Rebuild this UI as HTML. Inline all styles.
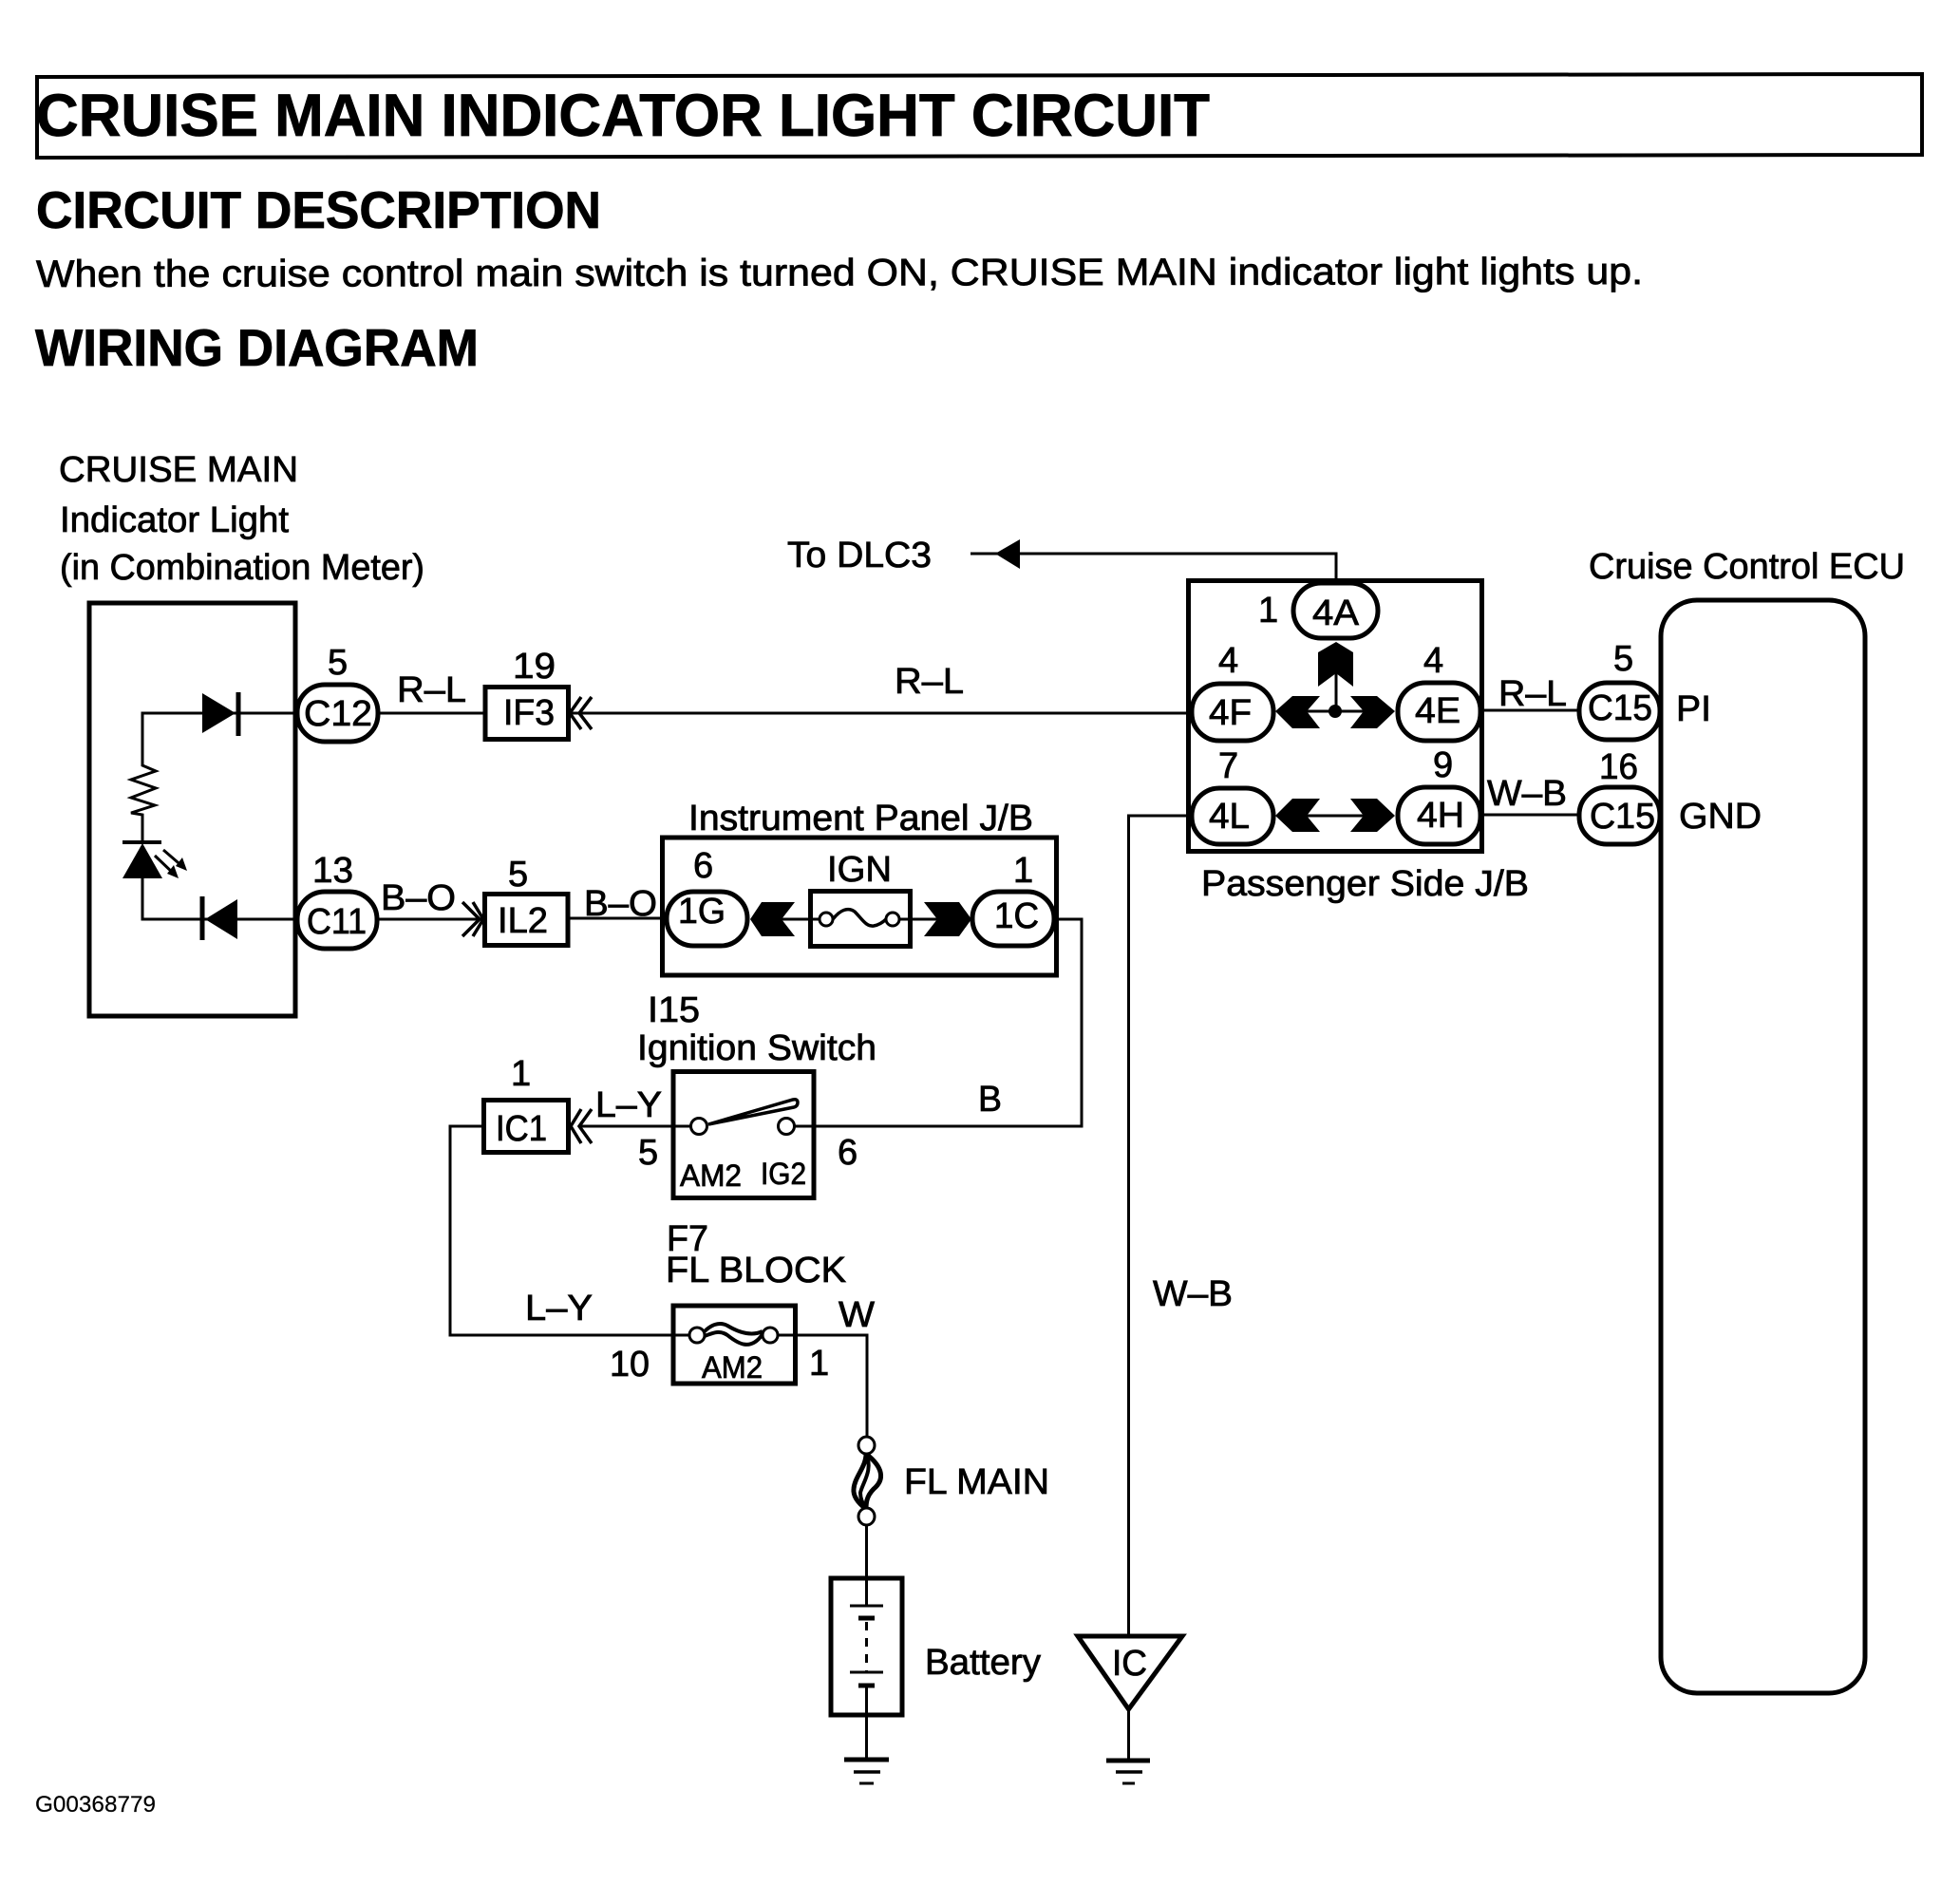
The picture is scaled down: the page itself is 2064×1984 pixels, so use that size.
<!DOCTYPE html>
<html><head><meta charset="utf-8"><title>Cruise Main Indicator Light Circuit</title>
<style>
html,body{margin:0;padding:0;background:#fff;width:2064px;height:1984px;overflow:hidden}
svg{display:block}
text{font-family:"Liberation Sans",Arial,sans-serif;font-size:38px;fill:#000;stroke:#000;stroke-width:.8px}
.b{font-weight:bold}
.p{fill:#fff;stroke:#000;stroke-width:5}
.box{fill:none;stroke:#000;stroke-width:5}
.w{fill:none;stroke:#000;stroke-width:3}
.t{fill:#fff;stroke:#000;stroke-width:3}
</style></head><body>
<svg xmlns="http://www.w3.org/2000/svg" width="2064" height="1984" viewBox="0 0 2064 1984">
<rect width="2064" height="1984" fill="#fff"/>

<!-- Header -->
<polygon points="39,81 2024,78 2024,163 39,166" fill="none" stroke="#000" stroke-width="4"/>
<text x="38" y="143" class="b" style="font-size:63px" textLength="1236" lengthAdjust="spacingAndGlyphs">CRUISE MAIN INDICATOR LIGHT CIRCUIT</text>
<text x="38" y="240" class="b" style="font-size:55px" textLength="595" lengthAdjust="spacingAndGlyphs">CIRCUIT DESCRIPTION</text>
<text x="38" y="302" style="font-size:40px" transform="rotate(-0.1 40 302)" textLength="1692" lengthAdjust="spacingAndGlyphs">When the cruise control main switch is turned ON, CRUISE MAIN indicator light lights up.</text>
<text x="37" y="385" class="b" style="font-size:55px" textLength="467" lengthAdjust="spacingAndGlyphs">WIRING DIAGRAM</text>

<!-- Combination meter -->
<text x="62" y="507" textLength="252" lengthAdjust="spacingAndGlyphs">CRUISE MAIN</text>
<text x="63" y="560" textLength="241" lengthAdjust="spacingAndGlyphs">Indicator Light</text>
<text x="63" y="610" textLength="384" lengthAdjust="spacingAndGlyphs">(in Combination Meter)</text>
<rect x="94" y="635" width="217" height="435" class="box"/>
<path d="M311,751 H150 V806 L164,812 L138,821 L164,830 L138,840 L163,848 L138,856 L150,858 V887 M150,925 V968 H311" class="w"/>
<polygon points="213,730 213,772 248,751"/>
<rect x="248.500" y="729" width="5" height="46"/>
<polygon points="250,947 250,989 216,968"/>
<rect x="210.500" y="944" width="5" height="46"/>
<rect x="129" y="885" width="41" height="4"/>
<polygon points="150,888 171,925 129,925"/>
<path d="M163,901 L185,922 M172,895 L194,914" class="w"/>
<polygon points="188,925 176,920 183,911"/>
<polygon points="197,917 185,912 192,903"/>

<!-- C12 / C11 -->
<path d="M398,751 H510 M599,751 H1254" class="w"/>
<path d="M398,968 H510 M599,967 H700" class="w"/>
<rect x="313" y="721" width="85" height="60" rx="29" class="p"/>
<rect x="313" y="939" width="84" height="60" rx="29" class="p"/>
<text x="320" y="764" textLength="72" lengthAdjust="spacingAndGlyphs">C12</text>
<text x="323" y="983" textLength="63" lengthAdjust="spacingAndGlyphs">C11</text>
<text x="345" y="710">5</text>
<text x="329" y="929" textLength="43" lengthAdjust="spacingAndGlyphs">13</text>
<text x="418" y="739" textLength="73" lengthAdjust="spacingAndGlyphs">R–L</text>
<text x="401" y="958" textLength="79" lengthAdjust="spacingAndGlyphs">B–O</text>

<!-- IF3 / IL2 -->
<rect x="511" y="723.500" width="87.500" height="55" fill="#fff" stroke="#000" stroke-width="5"/>
<rect x="510.500" y="941.500" width="87.500" height="54" fill="#fff" stroke="#000" stroke-width="5"/>
<text x="530" y="763" textLength="54" lengthAdjust="spacingAndGlyphs">IF3</text>
<text x="524" y="982" textLength="53" lengthAdjust="spacingAndGlyphs">IL2</text>
<text x="540" y="714" textLength="45" lengthAdjust="spacingAndGlyphs">19</text>
<text x="535" y="933">5</text>
<path d="M612,734 L600,751 L612,768 M623,734 L610,751 L623,768" fill="none" stroke="#000" stroke-width="3.500"/>
<path d="M487,950 L505,968 L487,986 M498,950 L509,968 L498,986" fill="none" stroke="#000" stroke-width="3.500"/>
<text x="615" y="964" textLength="77" lengthAdjust="spacingAndGlyphs">B–O</text>

<!-- Instrument Panel JB -->
<text x="725" y="874" textLength="363" lengthAdjust="spacingAndGlyphs">Instrument Panel J/B</text>
<rect x="697.500" y="882" width="415" height="145" class="box"/>
<path d="M823,968 H863 M947,968 H987" class="w"/>
<path d="M1110,968 H1139 V1186 H830" class="w"/>
<rect x="702" y="939" width="85" height="57" rx="28" class="p"/>
<rect x="1024" y="939" width="86" height="57" rx="28" class="p"/>
<polygon points="790,968 802,950 837,950 823,968 837,986 802,986"/>
<polygon points="1023,968 1010,950 973,950 987,968 973,986 1010,986"/>
<rect x="853.500" y="938.500" width="105" height="58" fill="none" stroke="#000" stroke-width="5"/>
<path d="M852,968 H860 M950,968 H959" class="w"/>
<circle cx="870" cy="968" r="7" class="t"/><circle cx="940" cy="968" r="7" class="t"/>
<path d="M877,968 C885,958 893,955 900,960 C908,968 912,976 920,975 C926,974 930,971 933,968" fill="none" stroke="#000" stroke-width="3.500"/>
<text x="714" y="972" textLength="50" lengthAdjust="spacingAndGlyphs">1G</text>
<text x="1047" y="977" textLength="47" lengthAdjust="spacingAndGlyphs">1C</text>
<text x="730" y="924">6</text>
<text x="1067" y="929">1</text>
<text x="871" y="928" textLength="68" lengthAdjust="spacingAndGlyphs">IGN</text>

<!-- Ignition switch -->
<text x="682" y="1076" textLength="55" lengthAdjust="spacingAndGlyphs">I15</text>
<text x="671" y="1116" textLength="252" lengthAdjust="spacingAndGlyphs">Ignition Switch</text>
<rect x="709" y="1128.500" width="148" height="133" class="box"/>
<path d="M612,1186 H728 M836,1186 H860" class="w"/>
<path d="M746,1184 L835,1158 Q840,1157 840,1161 Q840,1165 836,1166 Z" fill="#fff" stroke="#000" stroke-width="3.500"/>
<circle cx="736" cy="1186" r="8.500" class="t"/><circle cx="828" cy="1186" r="8.500" class="t"/>
<text x="716" y="1249" style="font-size:32px" textLength="65" lengthAdjust="spacingAndGlyphs">AM2</text>
<text x="801" y="1247" style="font-size:32px" textLength="48" lengthAdjust="spacingAndGlyphs">IG2</text>
<text x="672" y="1226">5</text>
<text x="882" y="1226">6</text>
<text x="627" y="1176" textLength="70" lengthAdjust="spacingAndGlyphs">L–Y</text>
<text x="1030" y="1170" textLength="25" lengthAdjust="spacingAndGlyphs">B</text>

<!-- IC1 -->
<path d="M510,1186 H474 V1406 H726 M819,1406 H913 V1513" class="w"/>
<rect x="509.500" y="1158.500" width="89" height="55" fill="#fff" stroke="#000" stroke-width="5"/>
<text x="522" y="1201" textLength="54" lengthAdjust="spacingAndGlyphs">IC1</text>
<text x="538" y="1143">1</text>
<path d="M612,1168 L601,1186 L612,1204 M623,1168 L610,1186 L623,1204" fill="none" stroke="#000" stroke-width="3.500"/>

<!-- FL block -->
<text x="702" y="1317" textLength="44" lengthAdjust="spacingAndGlyphs">F7</text>
<text x="701" y="1350" textLength="190" lengthAdjust="spacingAndGlyphs">FL BLOCK</text>
<text x="553" y="1390" textLength="71" lengthAdjust="spacingAndGlyphs">L–Y</text>
<rect x="709" y="1375" width="128.500" height="82" class="box"/>
<circle cx="734" cy="1406" r="8" class="t"/><circle cx="811" cy="1406" r="8" class="t"/>
<path d="M742,1402 C748,1396 757,1391 766,1396 C776,1402 790,1408 803,1402" fill="none" stroke="#000" stroke-width="4"/>
<path d="M742,1407 C750,1404 757,1400 766,1406 C776,1414 790,1424 803,1405" fill="none" stroke="#000" stroke-width="4"/>
<text x="739" y="1451" style="font-size:32px" textLength="64" lengthAdjust="spacingAndGlyphs">AM2</text>
<text x="642" y="1449" textLength="42" lengthAdjust="spacingAndGlyphs">10</text>
<text x="852" y="1448">1</text>
<text x="883" y="1397" textLength="38" lengthAdjust="spacingAndGlyphs">W</text>

<!-- FL main -->
<path d="M912,1531 C930,1545 932,1558 920,1568 C912,1576 912,1584 912,1589" fill="none" stroke="#000" stroke-width="5"/>
<path d="M912,1531 C912,1545 900,1555 899,1568 C898,1578 908,1586 912,1589" fill="none" stroke="#000" stroke-width="5"/>
<path d="M912,1531 C920,1548 908,1562 906,1572 C906,1580 910,1586 912,1589" fill="none" stroke="#000" stroke-width="4"/>
<ellipse cx="912.500" cy="1522" rx="8.500" ry="9" class="t"/>
<ellipse cx="912.500" cy="1597" rx="8.500" ry="9" class="t"/>
<text x="952" y="1573" textLength="153" lengthAdjust="spacingAndGlyphs">FL MAIN</text>

<!-- Battery -->
<path d="M912.500,1606 V1691" class="w"/>
<rect x="875" y="1662" width="75" height="144" fill="none" stroke="#000" stroke-width="5"/>
<path d="M895,1691 H930 M895,1761 H930" class="w"/>
<path d="M904,1704 H921 M904,1775 H921" fill="none" stroke="#000" stroke-width="5"/>
<path d="M912.500,1708 V1761" fill="none" stroke="#000" stroke-width="3" stroke-dasharray="9,8"/>
<path d="M912.500,1775 V1853" class="w"/>
<text x="974" y="1763" textLength="122" lengthAdjust="spacingAndGlyphs">Battery</text>
<path d="M889,1853 H936" stroke="#000" stroke-width="5"/>
<path d="M899,1866 H927" stroke="#000" stroke-width="3.500"/>
<path d="M905,1878 H920" stroke="#000" stroke-width="3"/>

<!-- IC ground -->
<path d="M1188.500,1722 V859 H1254" class="w"/>
<polygon points="1135,1723 1245,1723 1188.500,1800" fill="#fff" stroke="#000" stroke-width="5"/>
<text x="1171" y="1764" textLength="37" lengthAdjust="spacingAndGlyphs">IC</text>
<path d="M1188.500,1802 V1853" class="w"/>
<path d="M1165,1854 H1211" stroke="#000" stroke-width="5"/>
<path d="M1175,1866 H1203" stroke="#000" stroke-width="3.500"/>
<path d="M1182,1878 H1195" stroke="#000" stroke-width="3"/>
<text x="1214" y="1375" textLength="84" lengthAdjust="spacingAndGlyphs">W–B</text>

<!-- To DLC3 -->
<text x="829" y="597" textLength="152" lengthAdjust="spacingAndGlyphs">To DLC3</text>
<path d="M1022,583 H1407 V612" class="w"/>
<polygon points="1048,583 1074,568 1074,599"/>
<text x="942" y="730" textLength="73" lengthAdjust="spacingAndGlyphs">R–L</text>

<!-- Passenger side JB -->
<rect x="1251.500" y="611.500" width="309" height="285" class="box"/>
<path d="M1407,709 V749 M1376,749 H1436 M1376,859 H1436" class="w"/>
<circle cx="1406" cy="749" r="7"/>
<rect x="1362" y="614" width="89" height="58" rx="29" class="p"/>
<rect x="1255" y="720" width="86" height="60" rx="29" class="p"/>
<rect x="1472" y="719" width="87" height="61" rx="29" class="p"/>
<rect x="1255" y="830" width="86" height="59" rx="29" class="p"/>
<rect x="1472" y="829" width="87" height="60" rx="29" class="p"/>
<polygon points="1407,676 1425,687 1425,723 1407,709 1388,723 1388,687"/>
<polygon points="1343,749 1361,733 1390,733 1376,749 1390,767 1361,767"/>
<polygon points="1469,749 1450,733 1422,733 1436,749 1422,767 1450,767"/>
<polygon points="1343,859 1361,841 1390,841 1376,859 1390,876 1361,876"/>
<polygon points="1469,859 1450,841 1422,841 1436,859 1422,876 1450,876"/>
<text x="1382" y="658" textLength="49" lengthAdjust="spacingAndGlyphs">4A</text>
<text x="1273" y="763" textLength="45" lengthAdjust="spacingAndGlyphs">4F</text>
<text x="1490" y="761" textLength="48" lengthAdjust="spacingAndGlyphs">4E</text>
<text x="1273" y="872" textLength="43" lengthAdjust="spacingAndGlyphs">4L</text>
<text x="1492" y="871" textLength="50" lengthAdjust="spacingAndGlyphs">4H</text>
<text x="1325" y="655">1</text>
<text x="1283" y="708">4</text>
<text x="1499" y="708">4</text>
<text x="1283" y="819">7</text>
<text x="1509" y="818">9</text>
<text x="1265" y="943" textLength="345" lengthAdjust="spacingAndGlyphs">Passenger Side J/B</text>

<!-- ECU -->
<path d="M1560,748 H1664 M1560,858 H1664" class="w"/>
<rect x="1749" y="632" width="215" height="1151" rx="38" fill="none" stroke="#000" stroke-width="5"/>
<rect x="1663" y="719" width="85" height="60" rx="29" class="p"/>
<rect x="1663" y="829" width="85" height="60" rx="29" class="p"/>
<text x="1672" y="758" textLength="68" lengthAdjust="spacingAndGlyphs">C15</text>
<text x="1674" y="872" textLength="69" lengthAdjust="spacingAndGlyphs">C15</text>
<text x="1699" y="706">5</text>
<text x="1684" y="820" textLength="41" lengthAdjust="spacingAndGlyphs">16</text>
<text x="1578" y="743" textLength="72" lengthAdjust="spacingAndGlyphs">R–L</text>
<text x="1566" y="848" textLength="84" lengthAdjust="spacingAndGlyphs">W–B</text>
<text x="1765" y="759" textLength="37" lengthAdjust="spacingAndGlyphs">PI</text>
<text x="1768" y="872" textLength="87" lengthAdjust="spacingAndGlyphs">GND</text>
<text x="1673" y="609" textLength="333" lengthAdjust="spacingAndGlyphs">Cruise Control ECU</text>

<text x="37" y="1908" style="font-size:24px;stroke-width:.2px" textLength="127" lengthAdjust="spacingAndGlyphs">G00368779</text>
</svg>
</body></html>
